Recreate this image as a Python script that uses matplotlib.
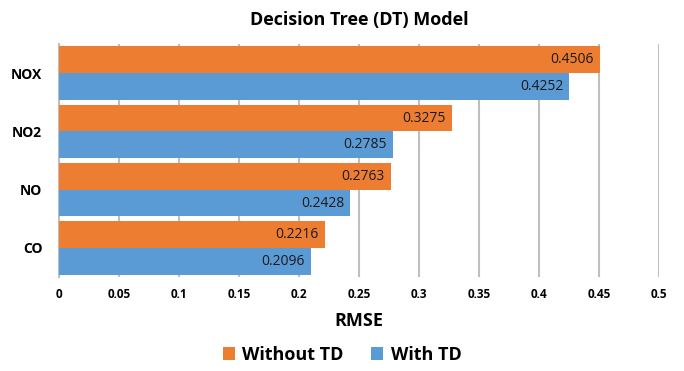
import numpy as np
import matplotlib.pyplot as plt

plt.rcParams['font.family'] = ['Open Sans', 'DejaVu Sans']

pollutants = ['CO', 'NO', 'NO2', 'NOX']
without_td = [0.2216, 0.2763, 0.3275, 0.4506]
with_td = [0.2096, 0.2428, 0.2785, 0.4252]
xticks = [0, 0.05, 0.1, 0.15, 0.2, 0.25, 0.3, 0.35, 0.4, 0.45, 0.5]

orange = '#ED7D31'
blue = '#5B9BD5'

fig = plt.figure(figsize=(6.84, 3.71), dpi=100)
ax = fig.add_axes([0.0863, 0.2534, 0.8772, 0.6276])

y = np.arange(len(pollutants))
h = 0.46
b1 = ax.barh(y + h / 2, without_td, height=h, color=orange, label='Without TD', zorder=3)
b2 = ax.barh(y - h / 2, with_td, height=h, color=blue, label='With TD', zorder=3)

# value labels sit just inside the end of each bar
for bars, vals in ((b1, without_td), (b2, with_td)):
    for bar, v in zip(bars, vals):
        ax.text(v - 0.005, bar.get_y() + bar.get_height() / 2, f'{v:.4f}',
                ha='right', va='center', fontsize=10, color='#1a1a1a', zorder=4)

ax.set_xlim(0, 0.5)
ax.set_ylim(-0.5, 3.5)
ax.set_xticks(xticks)
ax.set_xticklabels([f'{t:g}' for t in xticks], fontsize=8.5, fontweight='bold')
ax.set_yticks(y)
ax.set_yticklabels(pollutants, fontsize=10, fontweight='bold')
ax.tick_params(axis='both', length=0, pad=8)
ax.tick_params(axis='y', pad=12)
ax.xaxis.grid(True, color='#BFBFBF', linewidth=1.5, zorder=0)
for s in ['top', 'right', 'bottom']:
    ax.spines[s].set_visible(False)
ax.spines['left'].set_color('#BFBFBF')
ax.spines['left'].set_linewidth(1.5)

ax.set_xlabel('RMSE', fontsize=13, fontweight='bold', labelpad=8)
ax.set_title('Decision Tree (DT) Model', fontsize=13, fontweight='bold', pad=14)

fig.legend(handles=[b1, b2], loc='lower center', bbox_to_anchor=(0.5, -0.025),
           ncol=2, frameon=False, prop={'size': 13, 'weight': 'bold'},
           handlelength=0.7, handleheight=0.7, handletextpad=0.4, columnspacing=1.5)

fig.savefig('out.png', dpi=100)
